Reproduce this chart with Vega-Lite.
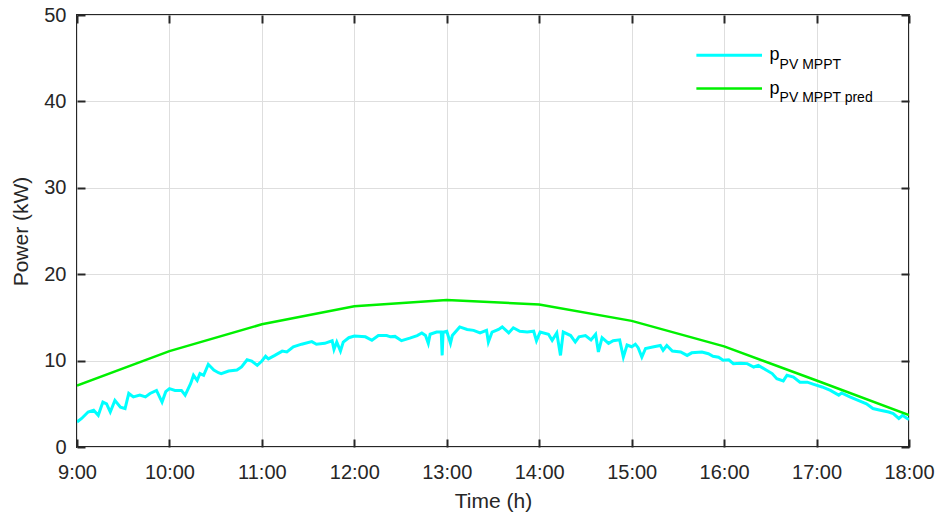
{
  "$schema": "https://vega.github.io/schema/vega-lite/v6.json",
  "width": 832,
  "height": 432,
  "autosize": {"type": "none"},
  "padding": {"left": 77, "top": 15, "right": 30, "bottom": 68},
  "background": "white",
  "config": {
    "view": {"stroke": "#262626", "strokeWidth": 2},
    "font": "Liberation Sans",
    "axis": {
      "domain": false,
      "tickColor": "#262626",
      "tickWidth": 2,
      "tickSize": 8,
      "gridColor": "#dedede",
      "gridWidth": 1,
      "labelColor": "#262626",
      "labelFont": "Liberation Sans",
      "labelFontSize": 20,
      "titleColor": "#262626",
      "titleFont": "Liberation Sans",
      "titleFontSize": 21,
      "titleFontWeight": "normal"
    }
  },
  "datasets": {
    "mppt": [
      {"t": 9.0, "p": 2.9}, {"t": 9.05, "p": 3.3}, {"t": 9.12, "p": 4.05}, {"t": 9.18, "p": 4.25},
      {"t": 9.23, "p": 3.67}, {"t": 9.28, "p": 5.2}, {"t": 9.32, "p": 5.0}, {"t": 9.36, "p": 4.05},
      {"t": 9.41, "p": 5.4}, {"t": 9.47, "p": 4.6}, {"t": 9.52, "p": 4.45}, {"t": 9.56, "p": 6.2},
      {"t": 9.61, "p": 5.8}, {"t": 9.68, "p": 6.0}, {"t": 9.74, "p": 5.8}, {"t": 9.79, "p": 6.2},
      {"t": 9.86, "p": 6.55}, {"t": 9.92, "p": 5.2}, {"t": 9.96, "p": 6.4}, {"t": 10.0, "p": 6.75},
      {"t": 10.06, "p": 6.55}, {"t": 10.13, "p": 6.55}, {"t": 10.17, "p": 6.0}, {"t": 10.23, "p": 7.35},
      {"t": 10.26, "p": 8.3}, {"t": 10.3, "p": 7.7}, {"t": 10.33, "p": 8.5}, {"t": 10.37, "p": 8.3},
      {"t": 10.42, "p": 9.57}, {"t": 10.48, "p": 8.9}, {"t": 10.53, "p": 8.6}, {"t": 10.56, "p": 8.5},
      {"t": 10.64, "p": 8.8}, {"t": 10.73, "p": 8.9}, {"t": 10.78, "p": 9.26}, {"t": 10.84, "p": 10.1},
      {"t": 10.89, "p": 9.95}, {"t": 10.95, "p": 9.45}, {"t": 11.0, "p": 9.95}, {"t": 11.04, "p": 10.5},
      {"t": 11.07, "p": 10.2}, {"t": 11.14, "p": 10.6}, {"t": 11.22, "p": 11.1}, {"t": 11.27, "p": 11.0},
      {"t": 11.34, "p": 11.6}, {"t": 11.43, "p": 11.9}, {"t": 11.54, "p": 12.2}, {"t": 11.59, "p": 11.9},
      {"t": 11.68, "p": 12.0}, {"t": 11.76, "p": 12.3}, {"t": 11.78, "p": 11.3}, {"t": 11.81, "p": 12.15},
      {"t": 11.85, "p": 11.1}, {"t": 11.88, "p": 12.15}, {"t": 11.94, "p": 12.65}, {"t": 12.0, "p": 12.85},
      {"t": 12.12, "p": 12.75}, {"t": 12.19, "p": 12.35}, {"t": 12.26, "p": 12.9}, {"t": 12.35, "p": 12.9},
      {"t": 12.39, "p": 12.75}, {"t": 12.44, "p": 12.8}, {"t": 12.51, "p": 12.3}, {"t": 12.6, "p": 12.6},
      {"t": 12.68, "p": 12.9}, {"t": 12.73, "p": 13.2}, {"t": 12.77, "p": 12.9}, {"t": 12.8, "p": 12.0},
      {"t": 12.82, "p": 13.05}, {"t": 12.89, "p": 13.3}, {"t": 12.94, "p": 13.3}, {"t": 12.95, "p": 10.6},
      {"t": 12.96, "p": 13.3}, {"t": 13.0, "p": 13.4}, {"t": 13.04, "p": 12.0}, {"t": 13.06, "p": 12.9},
      {"t": 13.14, "p": 13.9}, {"t": 13.22, "p": 13.6}, {"t": 13.29, "p": 13.5}, {"t": 13.36, "p": 13.2},
      {"t": 13.43, "p": 13.5}, {"t": 13.45, "p": 12.15}, {"t": 13.49, "p": 13.3}, {"t": 13.56, "p": 13.6},
      {"t": 13.6, "p": 13.9}, {"t": 13.67, "p": 13.2}, {"t": 13.72, "p": 13.8}, {"t": 13.79, "p": 13.4},
      {"t": 13.87, "p": 13.3}, {"t": 13.94, "p": 13.4}, {"t": 13.97, "p": 12.3}, {"t": 14.01, "p": 13.3},
      {"t": 14.1, "p": 13.05}, {"t": 14.14, "p": 12.35}, {"t": 14.19, "p": 13.2}, {"t": 14.23, "p": 10.6},
      {"t": 14.26, "p": 13.3}, {"t": 14.34, "p": 12.9}, {"t": 14.39, "p": 12.15}, {"t": 14.43, "p": 12.75},
      {"t": 14.5, "p": 12.9}, {"t": 14.56, "p": 12.4}, {"t": 14.61, "p": 13.05}, {"t": 14.64, "p": 11.0},
      {"t": 14.68, "p": 12.65}, {"t": 14.75, "p": 12.0}, {"t": 14.8, "p": 12.3}, {"t": 14.87, "p": 12.4},
      {"t": 14.91, "p": 10.4}, {"t": 14.95, "p": 11.8}, {"t": 15.0, "p": 11.6}, {"t": 15.04, "p": 11.9},
      {"t": 15.07, "p": 11.5}, {"t": 15.11, "p": 10.4}, {"t": 15.15, "p": 11.4}, {"t": 15.24, "p": 11.6},
      {"t": 15.31, "p": 11.75}, {"t": 15.34, "p": 11.2}, {"t": 15.38, "p": 11.75}, {"t": 15.44, "p": 11.1},
      {"t": 15.53, "p": 11.0}, {"t": 15.6, "p": 10.6}, {"t": 15.65, "p": 10.9}, {"t": 15.76, "p": 11.0},
      {"t": 15.83, "p": 10.8}, {"t": 15.88, "p": 10.5}, {"t": 15.94, "p": 10.4}, {"t": 15.99, "p": 10.05},
      {"t": 16.05, "p": 10.1}, {"t": 16.1, "p": 9.65}, {"t": 16.18, "p": 9.7}, {"t": 16.25, "p": 9.65},
      {"t": 16.32, "p": 9.26}, {"t": 16.37, "p": 9.45}, {"t": 16.45, "p": 8.95}, {"t": 16.52, "p": 8.5},
      {"t": 16.57, "p": 7.9}, {"t": 16.64, "p": 7.65}, {"t": 16.68, "p": 8.3}, {"t": 16.75, "p": 8.1},
      {"t": 16.82, "p": 7.5}, {"t": 16.9, "p": 7.5}, {"t": 16.97, "p": 7.25}, {"t": 17.06, "p": 6.95},
      {"t": 17.15, "p": 6.55}, {"t": 17.24, "p": 6.0}, {"t": 17.27, "p": 6.25}, {"t": 17.36, "p": 5.8},
      {"t": 17.45, "p": 5.4}, {"t": 17.54, "p": 5.0}, {"t": 17.61, "p": 4.45}, {"t": 17.69, "p": 4.25},
      {"t": 17.78, "p": 4.05}, {"t": 17.83, "p": 3.87}, {"t": 17.89, "p": 3.3}, {"t": 17.93, "p": 3.67},
      {"t": 17.98, "p": 3.3}, {"t": 18.0, "p": 3.2}
    ],
    "pred": [
      {"t": 9, "p": 7.1}, {"t": 10, "p": 11.1}, {"t": 11, "p": 14.2}, {"t": 12, "p": 16.3},
      {"t": 13, "p": 17.0}, {"t": 14, "p": 16.5}, {"t": 15, "p": 14.6}, {"t": 16, "p": 11.65},
      {"t": 17, "p": 7.7}, {"t": 18, "p": 3.7}
    ],
    "one": [{"k": 1}]
  },
  "resolve": {"axis": {"x": "independent", "y": "independent"}},
  "layer": [
    {
      "data": {"name": "mppt"},
      "mark": {"type": "line", "color": "#00ffff", "strokeWidth": 3, "clip": true},
      "encoding": {
        "x": {
          "field": "t", "type": "quantitative",
          "scale": {"domain": [9, 18], "nice": false, "zero": false},
          "axis": {
            "orient": "bottom", "title": "Time (h)", "values": [9, 10, 11, 12, 13, 14, 15, 16, 17, 18],
            "labelExpr": "datum.value + ':00'", "grid": true, "ticks": false, "labelPadding": 15,
            "labelFlush": false, "labelOverlap": false, "titlePadding": 8
          }
        },
        "y": {
          "field": "p", "type": "quantitative",
          "scale": {"domain": [0, 50], "nice": false},
          "axis": {
            "orient": "left", "title": "Power (kW)", "values": [0, 10, 20, 30, 40, 50],
            "grid": true, "ticks": false, "labelPadding": 11, "labelFlush": false, "titlePadding": 12
          }
        }
      }
    },
    {
      "data": {"name": "pred"},
      "mark": {"type": "line", "color": "#00f000", "strokeWidth": 2.5, "clip": true},
      "encoding": {
        "x": {
          "field": "t", "type": "quantitative",
          "axis": {"orient": "top", "title": null, "labels": false, "grid": false, "offset": -8,
                   "values": [9, 10, 11, 12, 13, 14, 15, 16, 17, 18]}
        },
        "y": {
          "field": "p", "type": "quantitative",
          "axis": {"orient": "right", "title": null, "labels": false, "grid": false, "offset": -8,
                   "values": [0, 10, 20, 30, 40, 50]}
        }
      }
    },
    {
      "data": {"name": "one"},
      "mark": {"type": "rule", "color": "#00ffff", "strokeWidth": 3},
      "encoding": {
        "x": {"datum": 15.7, "type": "quantitative",
              "axis": {"orient": "bottom", "title": null, "labels": false, "grid": false, "offset": -8,
                       "values": [9, 10, 11, 12, 13, 14, 15, 16, 17, 18]}},
        "x2": {"datum": 16.41},
        "y": {"datum": 45.33, "type": "quantitative",
              "axis": {"orient": "left", "title": null, "labels": false, "grid": false, "offset": -8,
                       "values": [0, 10, 20, 30, 40, 50]}}
      }
    },
    {
      "data": {"name": "one"},
      "mark": {"type": "rule", "color": "#00f000", "strokeWidth": 2.5},
      "encoding": {
        "x": {"datum": 15.7, "type": "quantitative", "axis": null},
        "x2": {"datum": 16.41},
        "y": {"datum": 41.48, "type": "quantitative", "axis": null}
      }
    },
    {
      "data": {"name": "one"},
      "mark": {"type": "text", "text": "p", "align": "left", "baseline": "alphabetic", "fontSize": 18, "color": "#000000"},
      "encoding": {
        "x": {"datum": 16.49, "type": "quantitative", "axis": null},
        "y": {"datum": 44.84, "type": "quantitative", "axis": null}
      }
    },
    {
      "data": {"name": "one"},
      "mark": {"type": "text", "text": "PV MPPT", "align": "left", "baseline": "alphabetic", "fontSize": 14, "color": "#000000"},
      "encoding": {
        "x": {"datum": 16.6, "type": "quantitative", "axis": null},
        "y": {"datum": 43.8, "type": "quantitative", "axis": null}
      }
    },
    {
      "data": {"name": "one"},
      "mark": {"type": "text", "text": "p", "align": "left", "baseline": "alphabetic", "fontSize": 18, "color": "#000000"},
      "encoding": {
        "x": {"datum": 16.49, "type": "quantitative", "axis": null},
        "y": {"datum": 40.9, "type": "quantitative", "axis": null}
      }
    },
    {
      "data": {"name": "one"},
      "mark": {"type": "text", "text": "PV MPPT pred", "align": "left", "baseline": "alphabetic", "fontSize": 14, "color": "#000000"},
      "encoding": {
        "x": {"datum": 16.6, "type": "quantitative", "axis": null},
        "y": {"datum": 39.93, "type": "quantitative", "axis": null}
      }
    }
  ]
}
